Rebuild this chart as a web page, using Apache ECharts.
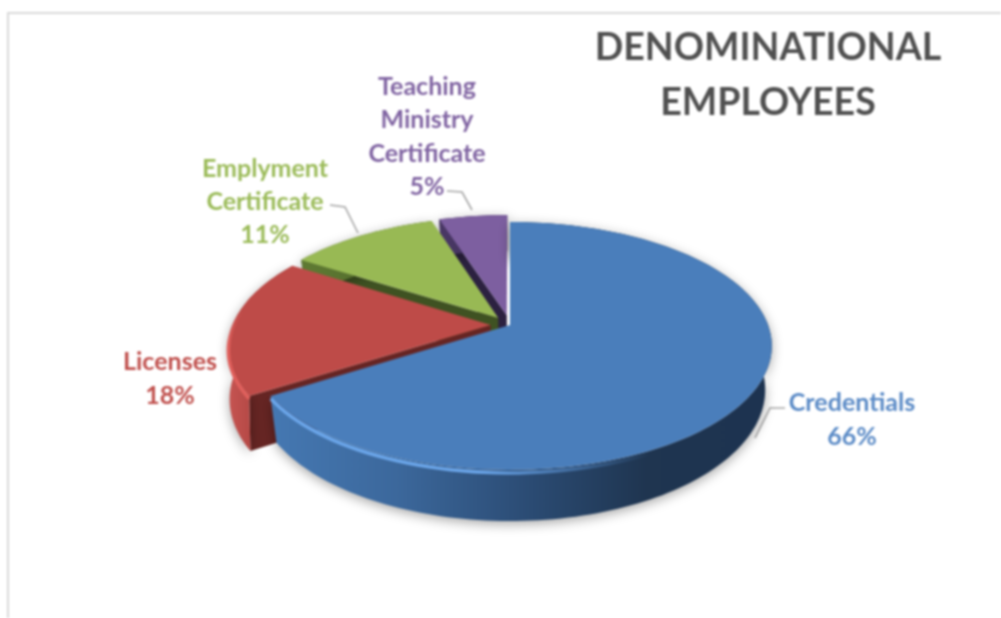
<!DOCTYPE html>
<html>
<head>
<meta charset="utf-8">
<style>
html,body{margin:0;padding:0;background:#fff;}
#main{width:1001px;height:618px;filter:blur(1px);}
</style>
<script src="https://cdn.jsdelivr.net/npm/echarts@6/dist/echarts.min.js"></script>
</head>
<body>
<div id="main"></div>
<script>
// ---- data ----
const titleText = 'DENOMINATIONAL\nEMPLOYEES';
const categories = ['Credentials', 'Licenses', 'Emplyment\nCertificate', 'Teaching\nMinistry\nCertificate'];
const seriesValues = [66, 18, 11, 5];

// ---- styles ----
const topColors = ['#4a7ebb', '#be4b48', '#98b954', '#7d5fa0'];
const textColors = ['#5a8ac6', '#c0504d', '#9bbb59', '#8064a2'];
const cutColors = ['#1f3550', '#662523', '#3f5222', '#2c2140'];
const wallStops = [
  [['#4578b2', 0], ['#3c689c', 0.25], ['#2c4d76', 0.5], ['#1f3550', 0.75], ['#1d3350', 1]],
  [['#c65552', 0], ['#ad4340', 0.5], ['#8c3331', 1]],
  [['#5f7a33', 0], ['#4c6329', 1]],
  [['#4a3866', 0], ['#3d2e55', 1]]
];
const rimColors = ['#6ba6ea', '#e0605c', null, null];
const explode = [0, 0.075, 0.075, 0.08];
const drawPriority = [4, 3, 2, 1];
const wallLift = [1, 1.18, 1, 1];
const wallShrink = [0.025, 0.004, 0.025, 0.025];
const labelPos = [[852, 420], [170, 379], [265, 202], [427, 137]];
const leaders = [
  [[785, 408], [770, 408], [755, 438]],
  null,
  [[330, 205], [345, 207], [358, 233]],
  [[447, 191], [462, 192], [472, 210]]
];

// ---- projection of the tilted disc ----
const CX = 510, CY = 325, RX = 258, RY = 120.4, PERSP = 0.169, DEPTH = 42.5;
function project(u, v, lift, shrink) {
  const w = 1 - PERSP * v;
  return [CX + RX * u / w * (1 - shrink * lift), CY + RY * v / w + DEPTH * lift / w];
}
const total = seriesValues.reduce((a, b) => a + b, 0);

function renderItem(params, api) {
  const i = params.dataIndex;
  const value = api.value(0);
  let before = 0;
  for (let k = 0; k < i; k++) before += seriesValues[k];
  const a0 = before / total * Math.PI * 2;
  const a1 = (before + value) / total * Math.PI * 2;
  const mid = (a0 + a1) / 2;
  const ex = Math.sin(mid) * explode[i], ey = -Math.cos(mid) * explode[i];
  const rim = (t, lift) => project(Math.sin(t) + ex, -Math.cos(t) + ey, lift, wallShrink[i]);
  const apex = lift => project(ex, ey, lift, wallShrink[i]);
  const low = wallLift[i];
  const steps = Math.max(12, Math.round((a1 - a0) * 40));
  const topArc = [], lowArc = [];
  for (let s = 0; s <= steps; s++) {
    const t = a0 + (a1 - a0) * s / steps;
    topArc.push(rim(t, 0));
    lowArc.push(rim(t, low));
  }
  const z = drawPriority[i] * 10;
  const children = [];
  const stops = wallStops[i].map(o => ({ color: o[0], offset: o[1] }));
  // cut wall on the starting edge of the slice
  if (i > 0) {
    children.push({
      type: 'polygon', z2: z,
      shape: { points: [rim(a0, 0), rim(a0, low), apex(low), apex(0)] },
      style: { fill: cutColors[i] }
    });
  }
  // curved outer wall
  children.push({
    type: 'polygon', z2: z + 1,
    shape: { points: topArc.concat(lowArc.slice().reverse()) },
    style: {
      fill: new echarts.graphic.LinearGradient(0, 0, 1, 0, stops),
      shadowColor: 'rgba(0,0,0,0.35)', shadowBlur: 12, shadowOffsetY: 3
    }
  });
  // top face
  children.push({
    type: 'polygon', z2: z + 2,
    shape: { points: [apex(0)].concat(topArc) },
    style: { fill: topColors[i] }
  });
  // bevel highlight on the front rim
  if (rimColors[i]) {
    const front = [];
    const from = i === 0 ? Math.PI * 0.85 : a0;
    const to = i === 0 ? a1 : a0 + 0.7;
    for (let s = 0; s <= 40; s++) {
      const t = from + (to - from) * s / 40;
      front.push(rim(t, 0.06));
    }
    children.push({
      type: 'polyline', z2: z + 3,
      shape: { points: front },
      style: {
        fill: null, lineWidth: 3.5,
        stroke: new echarts.graphic.LinearGradient(0, 0, i === 0 ? 1 : 0, i === 0 ? 0 : 1,
          i === 0
            ? [{ offset: 0, color: rimColors[i] }, { offset: 0.55, color: rimColors[i] },
               { offset: 1, color: 'rgba(90,150,220,0)' }]
            : [{ offset: 0, color: 'rgba(220,92,88,0)' }, { offset: 0.4, color: rimColors[i] },
               { offset: 1, color: rimColors[i] }])
      }
    });
  }
  // leader line
  if (leaders[i]) {
    children.push({
      type: 'polyline', z2: i === 0 ? 1 : 60,
      shape: { points: leaders[i] },
      style: { fill: null, stroke: '#a6a6a6', lineWidth: 1.6 }
    });
  }
  // label
  const pct = Math.round(value / total * 100) + '%';
  children.push({
    type: 'text', z2: 70,
    x: labelPos[i][0], y: labelPos[i][1],
    style: {
      text: categories[i] + '\n' + pct,
      fill: textColors[i],
      font: 'bold 25px Lato, "Open Sans", sans-serif',
      lineHeight: 33.3,
      align: 'center',
      verticalAlign: 'middle'
    }
  });
  return { type: 'group', children: children };
}

const chart = echarts.init(document.getElementById('main'), null, { renderer: 'canvas' });
chart.setOption({
  animation: false,
  backgroundColor: '#ffffff',
  title: {
    text: titleText,
    left: 763,
    top: 16,
    textAlign: 'center',
    textStyle: {
      color: '#505050',
      fontFamily: 'Lato, "Open Sans", sans-serif',
      fontWeight: 'bold',
      fontSize: 37.5,
      lineHeight: 54.5
    }
  },
  graphic: [
    { type: 'rect', shape: { x: 7, y: 12, width: 994, height: 2 }, style: { fill: '#d9d9d9' } },
    { type: 'rect', shape: { x: 7, y: 12, width: 2, height: 606 }, style: { fill: '#d9d9d9' } }
  ],
  series: [{
    type: 'custom',
    coordinateSystem: 'none',
    renderItem: renderItem,
    silent: true,
    data: seriesValues.map((v, i) => ({ name: categories[i], value: [v] }))
  }]
});
</script>
</body>
</html>
